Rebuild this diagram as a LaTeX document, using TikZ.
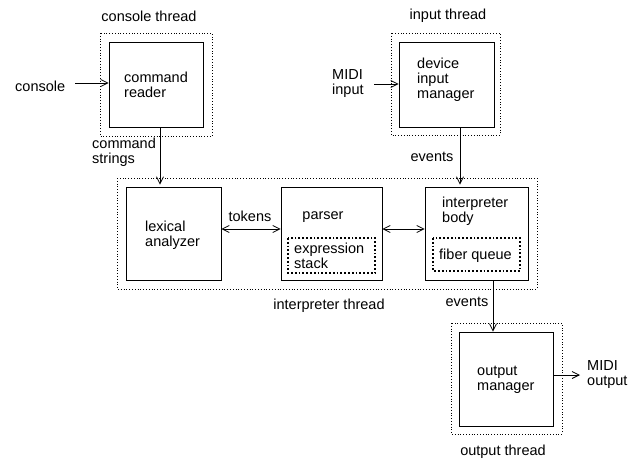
\documentclass[tikz,border=0pt]{standalone}
\usepackage{fontspec}
\setmainfont{Liberation Sans}
\usetikzlibrary{arrows.meta}
\begin{document}
\begin{tikzpicture}[x=1pt,y=-1pt,
  font=\fontsize{14.5}{15}\selectfont,
  box/.style={draw,line width=0.8pt,inner sep=0pt},
  thread/.style={draw,dotted,line width=0.8pt},
  inner/.style={draw,dotted,line width=1.8pt},
  lbl/.style={inner sep=0pt,align=left},
  arr/.style={line width=0.8pt,-{Straight Barb[length=7pt,width=7pt]}},
  darr/.style={line width=0.8pt,{Straight Barb[length=7pt,width=7pt]}-{Straight Barb[length=7pt,width=7pt]}}]
\useasboundingbox (0,0) rectangle (638,461);
% thread frames
\draw[thread] (100,33) rectangle (212,136);
\draw[thread] (391,33) rectangle (500,135);
\draw[thread] (117,178) rectangle (537,289);
\draw[thread] (451,323) rectangle (562,434);
% boxes
\node[box,minimum width=94pt,minimum height=85pt] (cmd) at (156,84.5) {};
\node[box,minimum width=95pt,minimum height=85pt] (dev) at (446.5,84.5) {};
\node[box,minimum width=95pt,minimum height=93pt] (lex) at (173.5,233.5) {};
\node[box,minimum width=101pt,minimum height=93pt] (par) at (331.5,233.5) {};
\node[box,minimum width=103pt,minimum height=93pt] (int) at (476.5,233.5) {};
\node[box,minimum width=94pt,minimum height=94pt] (out) at (506,379) {};
\draw[inner] (288,238) rectangle (375,273);
\draw[inner] (433,238) rectangle (520,271);
% texts
\node[lbl] (tcon) at (149,16) {console thread};
\node[lbl] (tin) at (448,16) {input thread};
\node[lbl] (tint) at (329,306) {interpreter thread};
\node[lbl] (tout) at (503,452) {output thread};
\node[lbl,anchor=west] (console) at (15,86) {console};
\node[lbl,anchor=west] (cmdt) at (124,85) {command\\reader};
\node[lbl,anchor=west] (cstr) at (92,152) {command\\strings};
\node[lbl,anchor=west] (midiin) at (332,83.5) {MIDI\\input};
\node[lbl,anchor=west] (devt) at (417,80) {device\\input\\manager};
\node[lbl] (ev1) at (432,157) {events};
\node[lbl,anchor=west] (lext) at (145,235) {lexical\\analyzer};
\node[lbl] (tok) at (250,216) {tokens};
\node[lbl] (part) at (323,217) {parser};
\node[lbl,anchor=west] (expr) at (294,256) {expression\\stack};
\node[lbl,anchor=west] (intt) at (442,211.5) {interpreter\\body};
\node[lbl,anchor=west] (fib) at (439,256) {fiber queue};
\node[lbl] (ev2) at (467,302) {events};
\node[lbl,anchor=west] (outt) at (477,379.5) {output\\manager};
\node[lbl,anchor=west] (midiout) at (587,374.5) {MIDI\\output};
% connectors
\coordinate (cin) at (75,83);
\coordinate (min) at (374,84);
\coordinate (mout) at (580,375);
\draw[arr] (cin) -- (cin -| cmd.west);
\draw[arr] (min) -- (min -| dev.west);
\draw[arr] ([xshift=4pt]cmd.south) -- ([xshift=-13.5pt,yshift=2pt]lex.north);
\draw[arr] ([xshift=13.5pt]dev.south) -- ([xshift=-16.5pt,yshift=2pt]int.north);
\draw[darr] ([yshift=4.5pt]lex.east) -- ([yshift=4.5pt]par.west);
\draw[darr] ([yshift=4.5pt]par.east) -- ([yshift=4.5pt]int.west);
\draw[arr] ([xshift=16.5pt]int.south) -- ([xshift=-13pt]out.north);
\draw[arr] (mout -| out.east) -- (mout);
\end{tikzpicture}
\end{document}
